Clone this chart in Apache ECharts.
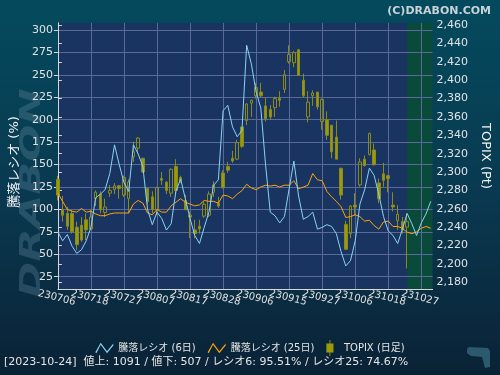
<!DOCTYPE html>
<html>
<head>
<meta charset="utf-8">
<script src="https://cdn.jsdelivr.net/npm/echarts@6/dist/echarts.min.js"></script>
<style>
  html, body { margin: 0; padding: 0; background: #0b2a40; }
  #chart { width: 500px; height: 375px; }
</style>
</head>
<body>
<div id="chart"></div>
<script>
// x軸ラベル（7営業日ごと）
const tickLabels = ['230706', '230718', '230727', '230807', '230817', '230828',
  '230906', '230915', '230927', '231006', '231018', '231027']

// TOPIX 日足 [始値, 終値, 安値, 高値]  230706 ～ 231024
const topixOHLC = [
  [2292, 2275, 2269, 2296], [2259, 2253, 2246, 2274], [2255, 2241, 2237, 2262], [2255, 2235, 2233, 2259],
  [2240, 2221, 2215, 2246], [2242, 2226, 2224, 2251], [2248, 2237, 2226, 2255], [2238, 2251, 2237, 2259],
  [2271, 2278, 2263, 2280], [2276, 2259, 2255, 2279], [2256, 2262, 2251, 2271], [2277, 2280, 2273, 2286],
  [2281, 2285, 2276, 2288], [2285, 2282, 2271, 2286], [2275, 2294, 2273, 2296], [2271, 2289, 2255, 2292],
  [2317, 2322, 2311, 2333], [2326, 2337, 2320, 2338], [2315, 2300, 2299, 2315], [2282, 2268, 2265, 2283],
  [2273, 2259, 2255, 2279], [2259, 2283, 2253, 2284], [2293, 2291, 2286, 2300], [2289, 2280, 2276, 2290],
  [2277, 2303, 2273, 2304], [2306, 2280, 2277, 2314], [2294, 2290, 2288, 2296], [2269, 2259, 2259, 2275],
  [2253, 2251, 2228, 2257], [2237, 2233, 2228, 2248], [2241, 2238, 2233, 2248], [2252, 2265, 2250, 2268],
  [2253, 2276, 2251, 2279], [2278, 2286, 2273, 2290], [2266, 2263, 2261, 2273], [2299, 2283, 2282, 2302],
  [2306, 2302, 2299, 2311], [2315, 2312, 2310, 2323], [2314, 2332, 2313, 2335], [2349, 2328, 2326, 2349],
  [2356, 2374, 2351, 2375], [2375, 2378, 2360, 2379], [2383, 2392, 2380, 2397], [2387, 2383, 2381, 2397],
  [2372, 2358, 2355, 2381], [2368, 2360, 2357, 2373], [2370, 2380, 2360, 2382], [2380, 2378, 2371, 2388],
  [2390, 2406, 2386, 2411], [2420, 2428, 2418, 2438], [2419, 2430, 2414, 2432], [2433, 2405, 2405, 2434],
  [2400, 2383, 2381, 2407], [2360, 2376, 2354, 2388], [2383, 2386, 2372, 2389], [2387, 2371, 2368, 2387],
  [2355, 2379, 2346, 2380], [2357, 2340, 2335, 2366], [2351, 2322, 2315, 2351], [2338, 2314, 2314, 2356],
  [2304, 2275, 2270, 2305], [2243, 2216, 2215, 2247], [2233, 2263, 2228, 2264], [2264, 2262, 2253, 2277],
  [2286, 2311, 2284, 2315], [2314, 2307, 2306, 2318], [2319, 2342, 2318, 2343], [2324, 2308, 2307, 2331],
  [2288, 2271, 2266, 2293], [2298, 2291, 2284, 2310], [2296, 2293, 2278, 2297], [2264, 2262, 2257, 2278],
  [2247, 2254, 2237, 2264], [2246, 2237, 2233, 2251], [2240, 2246, 2195, 2255]
]

// 騰落レシオ (6日)
const ratio6 = [
  75, 65, 72, 59, 51, 55, 65, 80, 113, 117,
  122, 140, 172, 150, 130, 120, 172, 162, 148, 100,
  83, 97, 90, 77, 84, 120, 134, 112, 90, 71,
  62, 80, 97, 127, 133, 210, 216, 192, 181, 188,
  283, 262, 231, 213, 150, 97, 93, 85, 92, 123,
  154, 115, 89, 92, 97, 78, 80, 83, 81, 73,
  53, 37, 43, 65, 106, 122, 146, 138, 117, 92,
  76, 71, 62, 78, 95.51, 84, 71, 85, 95, 109
]

// 騰落レシオ (25日)
const ratio25 = [
  118, 109, 100, 98, 97, 101, 97, 98, 95, 93,
  93, 95, 96, 96, 96, 96, 106, 110, 107, 96,
  94, 100, 97, 97, 104, 108, 112, 108, 106, 104,
  105, 110, 109, 109, 107, 116, 115, 112, 117, 121,
  128, 124, 122, 125, 127, 126, 127, 125, 127, 127,
  132, 123, 125, 127, 140, 133, 132, 120, 114, 109,
  103, 91, 92, 94, 92, 87, 88, 82, 78, 86,
  87, 81, 81, 79, 74.67, 73, 75, 79, 81, 79
]

const lastDay = 74 // 231024
const infoText = '[2023-10-24]  値上: 1091 / 値下: 507 / レシオ6: 95.51% / レシオ25: 74.67%'

const font = '"DejaVu Sans", "Noto Sans CJK JP", sans-serif'
const blue = '#8ad2f2'
const orange = '#ffa20a'
const olive = '#9a9a0c'
const gridColor = '#5a6a98'
const axisColor = '#d6d6d6'

const candleData = topixOHLC.map((d, i) => [i, d[0], d[1], d[2], d[3]])
const r6Data = ratio6.map((v, i) => [i, v])
const r25Data = ratio25.map((v, i) => [i, v])

const zigIcon = 'path://M0,10.5 L6,0 L13,9.5 L20,1 L20,3 L13,11.8 L6,2.4 L1.2,11.8 Z'
const candleIcon = 'path://M3.5,0 h1 v4 h-1 z M0,4 h8 v10 h-8 z M3.5,14 h1 v4 h-1 z'

const xLabelStyle = {
  color: '#e2e2e2',
  fontSize: 10,
  fontFamily: font,
  rotate: -14,
  align: 'center',
  verticalAlign: 'top',
  margin: 4
}

let myChart = echarts.init(document.getElementById('chart'), null, { renderer: 'canvas' })
var option = {
  animation: false,
  backgroundColor: {
    type: 'linear', x: 0, y: 0, x2: 0, y2: 1,
    colorStops: [
      { offset: 0, color: '#044a5d' },
      { offset: 0.5, color: '#093a51' },
      { offset: 1, color: '#0a2236' }
    ]
  },
  title: {
    text: '(C)DRABON.COM',
    right: 4,
    top: 1,
    textStyle: { color: '#c8d2d9', fontSize: 11, fontWeight: 'bold', fontFamily: font }
  },
  legend: {
    left: 'center',
    top: 335,
    itemWidth: 18,
    itemHeight: 16,
    itemGap: 12,
    itemStyle: { borderWidth: 0 },
    textStyle: { color: '#e4e4e4', fontSize: 10, fontFamily: font },
    data: [
      { name: '騰落レシオ (6日)', icon: zigIcon, itemStyle: { color: blue } },
      { name: '騰落レシオ (25日)', icon: zigIcon, itemStyle: { color: orange } },
      { name: 'TOPIX (日足)', icon: candleIcon, itemStyle: { color: olive } }
    ]
  },
  graphic: [
    {
      type: 'text',
      x: 33, y: 193,
      rotation: Math.PI / 2,
      scaleX: 1.55,
      z: 0,
      silent: true,
      style: {
        text: 'DRABON',
        font: 'italic bold 28px ' + font,
        fill: 'rgba(110,145,165,0.3)',
        align: 'center',
        verticalAlign: 'middle'
      }
    },
    {
      type: 'text',
      left: 4, top: 357,
      silent: true,
      style: { text: infoText, font: '11px ' + font, fill: '#e4e4e4' }
    },
    {
      type: 'polygon',
      silent: true,
      shape: { points: [[467, 349], [469, 347], [488, 348], [490, 351], [490, 367], [485, 368], [482, 357], [471, 356], [467, 353]] },
      style: { fill: '#2b5a6e' }
    }
  ],
  grid: {
    left: 57,
    right: 63,
    top: 23,
    bottom: 86
  },
  xAxis: [
    {
      type: 'value',
      min: 0,
      max: 79.4,
      interval: 7,
      z: 1,
      axisLine: { lineStyle: { color: axisColor } },
      axisTick: { show: false },
      splitLine: { lineStyle: { color: gridColor }, showMinLine: false, showMaxLine: false },
      axisLabel: Object.assign({}, xLabelStyle, {
        showMinLabel: false,
        formatter: (v) => (v % 7 === 0 ? tickLabels[v / 7] || '' : '')
      })
    },
    {
      // 先頭ラベル（230706）だけを描く補助軸
      type: 'value',
      position: 'bottom',
      min: 0,
      max: 79.4,
      interval: 7,
      z: 1,
      axisLine: { show: false },
      axisTick: { show: false },
      splitLine: { show: false },
      axisLabel: Object.assign({}, xLabelStyle, {
        showMinLabel: true,
        formatter: (v) => (v === 0 ? tickLabels[0] : '')
      })
    }
  ],
  yAxis: [
    {
      type: 'value',
      position: 'left',
      min: 11.3,
      max: 307.8,
      minInterval: 25,
      maxInterval: 25,
      splitNumber: 12,
      z: 1,
      name: '騰落レシオ (%)',
      nameLocation: 'middle',
      nameGap: 33,
      nameTextStyle: { color: '#f2f2f2', fontSize: 13, fontFamily: font, padding: [0, 12, 0, 0] },
      axisLine: { show: true, lineStyle: { color: axisColor } },
      axisTick: { show: true, length: 4, lineStyle: { color: axisColor } },
      axisLabel: { color: '#e2e2e2', fontSize: 11, fontFamily: font, margin: 5, showMinLabel: false, showMaxLabel: false },
      splitLine: { lineStyle: { color: gridColor }, showMinLine: false, showMaxLine: false }
    },
    {
      type: 'value',
      position: 'right',
      min: 2172.7,
      max: 2462.2,
      minInterval: 20,
      maxInterval: 20,
      splitNumber: 14,
      z: 1,
      name: 'TOPIX (Pt)',
      nameLocation: 'middle',
      nameRotate: -90,
      nameGap: 42,
      nameTextStyle: { color: '#f2f2f2', fontSize: 13, fontFamily: font },
      axisLine: { show: true, lineStyle: { color: axisColor } },
      axisTick: { show: true, length: 4, lineStyle: { color: axisColor } },
      axisLabel: { color: '#e2e2e2', fontSize: 11, fontFamily: font, margin: 4, showMinLabel: false, showMaxLabel: false },
      splitLine: { show: false }
    }
  ],
  series: [
    {
      // 背景（通常期間と直近の緑帯）
      type: 'line',
      name: 'bg',
      data: [],
      silent: true,
      markArea: {
        silent: true,
        z: 0,
        data: [
          [{ xAxis: 0, itemStyle: { color: '#1a3462' } }, { xAxis: lastDay }],
          [{ xAxis: lastDay, itemStyle: { color: '#0a4a3b' } }, { xAxis: 79.4 }]
        ]
      }
    },
    {
      name: 'TOPIX (日足)',
      type: 'candlestick',
      yAxisIndex: 1,
      barWidth: 3,
      data: candleData,
      itemStyle: {
        color: 'rgba(0,0,0,0)',
        color0: olive,
        borderColor: '#8a8a18',
        borderColor0: '#8a8a18',
        borderWidth: 1
      }
    },
    {
      name: '騰落レシオ (25日)',
      type: 'line',
      yAxisIndex: 0,
      showSymbol: false,
      color: orange,
      lineStyle: { width: 1, color: orange },
      data: r25Data
    },
    {
      name: '騰落レシオ (6日)',
      type: 'line',
      yAxisIndex: 0,
      showSymbol: false,
      color: blue,
      lineStyle: { width: 1, color: blue },
      data: r6Data
    }
  ]
}
myChart.setOption(option)
</script>
</body>
</html>
